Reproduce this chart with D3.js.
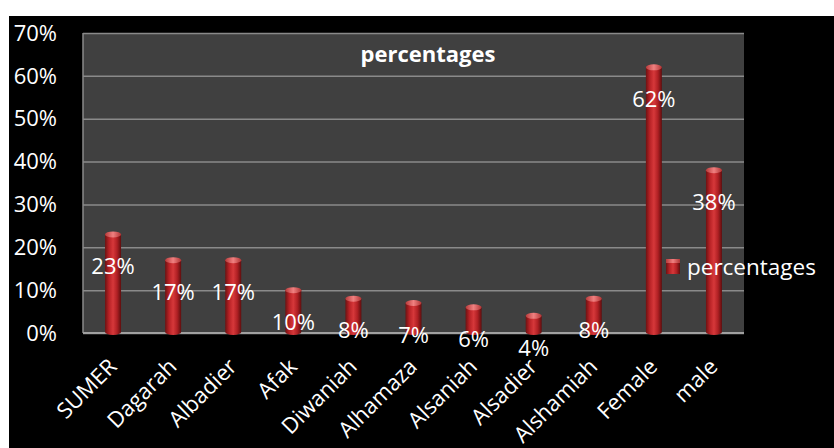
<!DOCTYPE html>
<html>
<head>
<meta charset="utf-8">
<script src="https://cdn.jsdelivr.net/npm/d3@7"></script>
<style>
  body { margin: 0; background: #fff; }
  svg text { font-family: "Open Sans", "Noto Sans", sans-serif; fill: #fff; }
  .grid line { stroke: #8a8a8a; stroke-width: 1.5; }
  .grid path { display: none; }
</style>
</head>
<body>
<script>
// chart data
var categories = ['SUMER', 'Dagarah', 'Albadier', 'Afak', 'Diwaniah', 'Alhamaza',
                  'Alsaniah', 'Alsadier', 'Alshamiah', 'Female', 'male'];
var values = [23, 17, 17, 10, 8, 7, 6, 4, 8, 62, 38];
var yTicks = [0, 10, 20, 30, 40, 50, 60, 70];
var seriesName = 'percentages';

var w = 834, h = 448;
var plotL = 83, plotR = 744, plotT = 33, plotB = 333;

var svg = d3.select('body')
    .append('svg')
    .attr('width', w)
    .attr('height', h);

// black panel, white strip along top and left
svg.append('rect')
    .attr('x', 9).attr('y', 16)
    .attr('width', w - 9).attr('height', h - 16)
    .attr('fill', '#000');

var x = d3.scaleBand()
    .domain(categories)
    .range([plotL, plotR]);
var y = d3.scaleLinear()
    .domain([0, 70])
    .range([plotB, plotT]);

// gradients for the cylinders
var defs = svg.append('defs');
var body = defs.append('linearGradient').attr('id', 'cyl');
body.append('stop').attr('offset', '0%').attr('stop-color', '#6e1212');
body.append('stop').attr('offset', '25%').attr('stop-color', '#b82226');
body.append('stop').attr('offset', '50%').attr('stop-color', '#d6383a');
body.append('stop').attr('offset', '75%').attr('stop-color', '#b02024');
body.append('stop').attr('offset', '100%').attr('stop-color', '#5e0e0e');
var cap = defs.append('linearGradient').attr('id', 'cap');
cap.append('stop').attr('offset', '0%').attr('stop-color', '#b83a3a');
cap.append('stop').attr('offset', '50%').attr('stop-color', '#f08080');
cap.append('stop').attr('offset', '100%').attr('stop-color', '#b03434');

// plot area
svg.append('rect')
    .attr('x', plotL).attr('y', plotT)
    .attr('width', plotR - plotL).attr('height', plotB - plotT)
    .attr('fill', '#404040');

svg.append('g')
    .attr('class', 'grid')
    .attr('transform', 'translate(' + plotL + ',0)')
    .call(d3.axisLeft(y).tickValues(yTicks).tickSize(-(plotR - plotL)).tickFormat(''));

svg.append('line')
    .attr('x1', plotL).attr('x2', plotL)
    .attr('y1', plotT).attr('y2', plotB)
    .attr('stroke', '#8a8a8a').attr('stroke-width', 1.5);
svg.append('line')
    .attr('x1', plotL).attr('x2', plotR)
    .attr('y1', plotB).attr('y2', plotB)
    .attr('stroke', '#a0a0a0').attr('stroke-width', 2);

// y tick labels
svg.append('g')
    .selectAll('text')
    .data(yTicks)
    .join('text')
    .attr('x', 57)
    .attr('y', function(d) { return y(d); })
    .attr('dy', '0.35em')
    .attr('text-anchor', 'end')
    .style('font-size', '22px')
    .text(function(d) { return d + '%'; });

// bars
var bw = 16, ry = 3;
var bars = svg.append('g')
    .selectAll('g')
    .data(categories)
    .join('g')
    .attr('transform', function(d) { return 'translate(' + (x(d) + x.bandwidth() / 2) + ',0)'; });
bars.append('path')
    .attr('fill', 'url(#cyl)')
    .attr('d', function(d, i) {
        var t = y(values[i]), b = plotB - 1;
        return 'M' + (-bw / 2) + ',' + t + 'L' + (-bw / 2) + ',' + b +
            'A' + (bw / 2) + ',' + ry + ' 0 0 0 ' + (bw / 2) + ',' + b +
            'L' + (bw / 2) + ',' + t + 'Z';
    });
bars.append('ellipse')
    .attr('cx', 0)
    .attr('cy', function(d, i) { return y(values[i]); })
    .attr('rx', bw / 2).attr('ry', ry)
    .attr('fill', 'url(#cap)');

// data labels
bars.append('text')
    .attr('y', function(d, i) { return y(values[i]) + 32; })
    .attr('dy', '0.35em')
    .attr('text-anchor', 'middle')
    .style('font-size', '22px')
    .text(function(d, i) { return values[i] + '%'; });

// category labels
svg.append('g')
    .selectAll('text')
    .data(categories)
    .join('text')
    .attr('transform', function(d) {
        return 'translate(' + (x(d) + x.bandwidth() / 2 + 5) + ',' + (plotB + 35) + ') rotate(-45)';
    })
    .attr('text-anchor', 'end')
    .style('font-size', '22px')
    .text(function(d) { return d; });

// title
svg.append('text')
    .attr('x', 428).attr('y', 62)
    .attr('text-anchor', 'middle')
    .style('font-size', '22px')
    .style('font-weight', 'bold')
    .text(seriesName);

// legend
var lg = svg.append('g').attr('transform', 'translate(666,259)');
lg.append('rect')
    .attr('width', 14).attr('height', 15)
    .attr('fill', 'url(#cyl)');
lg.append('rect')
    .attr('width', 14).attr('height', 4)
    .attr('fill', 'url(#cap)');
lg.append('text')
    .attr('x', 21).attr('y', 8)
    .attr('dy', '0.35em')
    .style('font-size', '22.5px')
    .text(seriesName);
</script>
</body>
</html>
